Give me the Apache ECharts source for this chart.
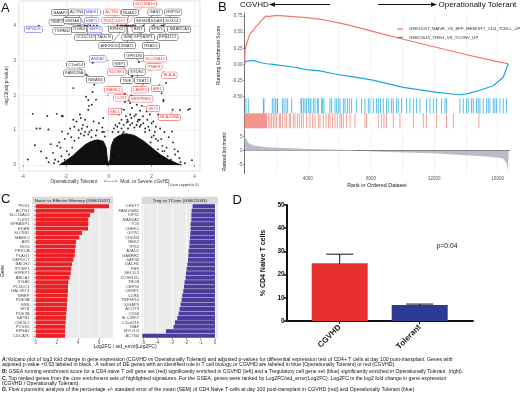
<!DOCTYPE html>
<html>
<head>
<meta charset="utf-8">
<script src="https://cdn.jsdelivr.net/npm/echarts@6/dist/echarts.min.js"></script>
<style>
  html, body { margin: 0; padding: 0; background: #fff; }
  #chart { width: 520px; height: 398px; }
</style>
</head>
<body>
<div id="chart"></div>
<script>
// ---- panel A: volcano ----
var volPoints = [
  [-3.26, 4], [-1.34, 4], [-1.10, 4], [-0.99, 4], [-0.87, 4], [-0.71, 4], [-0.55, 4], [0.40, 4], [0.55, 4], [0.62, 4],
  [0.71, 4], [0.78, 4], [0.85, 4], [0.92, 4], [1.02, 4], [1.12, 4], [1.23, 4], [1.62, 4], [2.08, 4], [2.47, 4], [2.55, 4],
  [-0.75, 2.94], [-1.03, 2.59], [1.41, 2.96], [2.55, 2.66], [1.33, 2.5], [1.61, 2.34], [2.35, 2.29], [2.67, 2.36],
  [0.95, 2.62], [1.1, 2.55], [1.9, 2.75], [0.75, 2.05], [1.05, 2.0], [0.95, 1.85], [1.55, 1.7], [0.6, 1.6], [2.98, 1.59],
  [-1.65, 2.21], [-0.67, 2.31], [-0.75, 2.10], [-0.59, 1.88], [-0.79, 1.73], [-0.95, 1.59], [-1.34, 1.45], [-0.25, 1.35],
  [-1.10, 1.3], [-1.65, 1.3], [-2.14, 1.4], [0.76, 1.81], [1.0, 1.78], [1.31, 1.73], [1.08, 1.64], [1.46, 1.56],
  [1.27, 1.45], [1.77, 1.54], [1.38, 1.30], [1.92, 1.45], [1.06, 1.35], [0.87, 1.30], [0.48, 1.45], [0.71, 1.59],
  [2.55, 1.83], [2.31, 1.45], [2.71, 1.30], [2.08, 1.25], [1.61, 1.20], [0.84, 1.22], [3.71, 1.59], [3.32, 1.58],
  [3.79, 1.61], [2.47, 2.06], [2.55, 1.87], [2.95, 0.96], [3.23, 0.39], [3.88, 0.14], [3.07, 0.45],
  [-3.54, 1.47], [-2.86, 1.41], [-2.42, 1.47], [-2.19, 1.41], [-1.06, 1.96], [-0.95, 1.87], [-0.92, 1.70], [-3.2, 1.05],
  [-3.36, 1.05], [-2.81, 1.02], [-2.18, 0.96], [-3.44, 0.57], [-3.15, 0.39], [-3.77, 0.16], [-2.4, 0.55], [-2.3, 0.65],
  [-2.25, 0.5], [-2.6, 0.35], [-2.9, 0.2], [-2.5, 0.15], [-2.7, 0.6], [-1.9, 0.9], [-1.8, 1.05], [-1.6, 1.1], [-1.4, 1.0],
  [-1.2, 1.15], [-1.0, 1.1], [-0.8, 1.0], [-0.6, 0.85], [-0.5, 0.7], [-0.4, 0.55], [-1.5, 1.25], [-1.3, 1.35], [-0.7, 1.25],
  [-0.3, 0.95], [-2.05, 0.75], [-1.95, 0.4], [-2.2, 0.25], [-1.3, 0.9], [-0.9, 0.95], [-0.45, 1.2],
  [0.35, 0.7], [0.45, 0.95], [0.6, 1.05], [0.7, 1.15], [0.9, 1.25], [1.1, 1.2], [1.3, 1.15], [1.5, 1.15], [1.7, 1.05],
  [1.9, 1.0], [2.1, 0.85], [2.3, 0.7], [2.5, 0.55], [2.6, 0.4], [2.75, 0.25], [2.9, 0.15], [3.0, 0.65], [2.8, 0.8],
  [2.6, 0.95], [2.4, 1.05], [2.2, 1.1], [2.0, 1.2], [1.8, 1.3], [1.6, 1.4], [1.2, 1.4], [1.0, 1.45], [0.8, 1.4], [0.6, 1.3],
  [0.5, 1.2], [3.1, 0.3], [3.3, 0.2], [2.35, 0.25], [-0.2, 0.2], [0.2, 0.25], [-0.15, 0.1], [0.15, 0.12],
  [-1.15, 0.85], [-0.95, 0.88], [-1.4, 0.78], [-1.7, 0.5], [-1.85, 0.3], [-0.65, 0.7], [-0.45, 0.45], [0.4, 0.5],
  [0.55, 0.75], [0.7, 0.95], [0.9, 1.05], [1.2, 1.08], [1.7, 0.95], [2.0, 0.8], [2.3, 0.45], [2.6, 0.2], [1.35, 1.25], [1.95, 0.65],
  [-2.35, 0.1], [-2.05, 0.15], [-1.6, 0.7], [-1.1, 0.95], [-0.8, 0.8], [-0.35, 0.35], [0.25, 0.45], [0.45, 0.8],
  [1.45, 1.1], [1.85, 1.1], [2.2, 0.75], [2.5, 0.4], [2.7, 0.5], [1.0, 1.15], [0.65, 0.9], [2.15, 0.95],
  [-0.18, 0.82], [-0.22, 0.95], [-0.3, 1.08], [0.18, 0.95], [0.25, 1.05], [0.32, 1.15], [-2.55, 0.05], [-2.8, 0.08],
  [3.35, 0.08], [3.55, 0.05], [-1.75, 0.8], [-1.25, 1.05], [-0.55, 1.0], [0.4, 1.1], [1.45, 1.3], [2.45, 0.75]
];
// outline of the dense core of non-significant genes
var volCloudX = [-2.3, -2.0, -1.7, -1.4, -1.1, -0.8, -0.5, -0.25, -0.12, -0.06, 0, 0.06, 0.12, 0.25, 0.5, 0.8, 1.2, 1.6, 2.0, 2.4, 2.8, 3.2, 3.4];
var volCloudY = [0, 0.12, 0.25, 0.42, 0.58, 0.68, 0.72, 0.68, 0.5, 0.15, 0.03, 0.15, 0.55, 0.75, 0.85, 0.9, 0.85, 0.7, 0.5, 0.3, 0.15, 0.04, 0];

var volLabelGene = ['HPGDS', 'BAIAP3', 'ACTN4', 'MAGI1', 'TIMP2', 'MXRA8', 'EMP1', 'TSPAN2', 'ITGB4', 'EMP3', 'CCDC167', 'TAGLN',
  'ACTN1', 'PDK1', 'IL6ST', 'SLC16A10', 'NUAK2', 'EPHX2', 'SESN3', 'BIN1', 'INSR', 'ANKRD55', 'ZMAT1', 'GPRASP1', 'RSAD2',
  'GAS7', 'HSPG2', 'EDAR', 'SOX13', 'SPEG', 'SMARCA1', 'EPB41L2', 'ANXA2', 'C1orf54', 'FAM129A', 'NIBAN1', 'GPR183',
  'SLC26A11', 'NRP1', 'PTAFR', 'SLC9B1', 'SYDE2', 'HLA-A', 'TNIK', 'TRAT1', 'MAML2', 'LAMP3', 'AIF1', 'CCR7', 'SERPINE2',
  'IFIT3', 'SELL', 'HLA-DMA'];
var volLabelX = [-3.51, -2.24, -1.49, -0.76, -2.42, -1.70, -0.79, -2.16, -1.38, -0.64, -1.07, -0.22,
  0.15, 0.01, 0.53, 1.69, 0.99, 0.37, 1.58, 1.38, 0.92, 0.06, 0.87, 1.61, 1.97,
  2.16, 3.01, 2.24, 2.94, 2.24, 3.29, 2.75, -0.51, -1.54, -1.60, -0.61, 1.19,
  2.16, 0.53, 2.11, 0.37, 1.31, 2.83, 0.84, 1.58, 0.22, 1.46, 2.27, 0.57, 1.51,
  2.08, 0.29, 2.83];
var volLabelY = [3.90, 4.38, 4.39, 4.39, 4.10, 4.15, 4.15, 3.85, 3.90, 3.90, 3.67, 3.67,
  4.39, 4.15, 4.15, 4.63, 4.38, 3.90, 4.15, 3.90, 3.67, 3.43, 3.43, 3.67, 3.43,
  4.39, 4.39, 4.15, 4.15, 3.90, 3.90, 3.67, 3.05, 2.88, 2.64, 2.45, 3.15,
  3.05, 2.92, 2.82, 2.67, 2.67, 2.58, 2.43, 2.43, 2.16, 2.16, 2.20, 1.93, 1.90,
  1.62, 1.54, 1.37];
var volPointX = [-3.26, -1.34, -1.10, -0.87, -1.34, -1.10, -0.99, -1.34, -0.99, -0.71, -0.87, -0.55,
  0.62, 0.55, 0.71, 0.78, 0.78, 0.71, 1.02, 0.92, 0.85, 0.78, 0.85, 1.12, 1.23,
  1.62, 2.55, 2.08, 2.47, 2.08, 2.55, 2.47, -0.75, -1.03, -1.03, -1.03, 1.41,
  1.41, 0.95, 1.9, 0.95, 1.33, 2.55, 1.1, 1.33, 0.75, 1.61, 2.35, 0.95, 1.05,
  1.55, 0.6, 2.98];
var volPointY = [4, 4, 4, 4, 4, 4, 4, 4, 4, 4, 4, 4,
  4, 4, 4, 4, 4, 4, 4, 4, 4, 4, 4, 4, 4,
  4, 4, 4, 4, 4, 4, 4, 2.94, 2.59, 2.59, 2.59, 2.96,
  2.96, 2.62, 2.75, 2.62, 2.5, 2.66, 2.55, 2.5, 2.05, 2.34, 2.29, 1.85, 2.0,
  1.7, 1.6, 1.59];
var volLabelKind = ['b', 'k', 'k', 'b', 'k', 'k', 'b', 'k', 'k', 'b', 'k', 'k',
  'r', 'r', 'r', 'r', 'k', 'k', 'k', 'k', 'k', 'k', 'k', 'k', 'k',
  'k', 'k', 'k', 'k', 'k', 'k', 'k', 'b', 'k', 'k', 'k', 'k',
  'r', 'k', 'r', 'r', 'k', 'r', 'k', 'k', 'r', 'r', 'r', 'r', 'r',
  'r', 'r', 'r'];
var volXTicks = [-4, -2, 0, 2, 4];
var volXMinor = [-3, -1, 1, 3];
var volYTicks = [0, 1, 2, 3, 4];
var volYMinor = [0.5, 1.5, 2.5, 3.5];

// ---- panel B: GSEA ----
var esRankRed = [0, 32, 137, 242, 348, 453, 600, 727, 874, 1022, 1190, 1359, 1611, 2033, 2876, 3930, 4982, 6035, 6667, 8035, 10035, 12035, 14035, 15930, 16670];
var esRed = [0, 0.217, 0.32, 0.40, 0.475, 0.50, 0.537, 0.589, 0.62, 0.67, 0.707, 0.749, 0.744, 0.76, 0.744, 0.723, 0.692, 0.64, 0.604, 0.516, 0.39, 0.27, 0.15, 0.047, 0.01];
var esRankBlue = [0, 32, 560, 980, 1400, 1820, 2240, 3086, 3930, 4771, 5613, 6667, 8035, 10035, 12035, 13600, 14035, 14880, 15723, 16355, 16670];
var esBlue = [0, 0.046, 0.062, 0.03, 0.01, 0.0, -0.015, -0.04, -0.08, -0.1, -0.145, -0.186, -0.24, -0.355, -0.43, -0.47, -0.455, -0.40, -0.33, -0.2, 0.01];
var blueHits = [95, 240, 1190, 1232, 1757, 1864, 1970, 2075, 2098, 2412, 2496, 2622, 2730, 2982, 3570, 3612, 3718, 3823, 3928,
  4035, 4139, 4200, 4350, 4455, 4600, 4665, 4876, 4940, 5024, 5403, 5508, 5718, 5825, 5929, 6035, 6245, 6350, 6497,
  6624, 6771, 7087, 7403, 7614, 7824, 7930, 8140, 8351, 8456, 8604, 8772, 8983, 9088, 9299, 9404, 9615, 9720, 9930,
  10246, 10458, 10668, 10879, 11089, 11511, 11721, 11932, 12143, 12459, 12669, 12775, 13617, 13827, 14038, 14143,
  14354, 14459, 14670, 14775, 14880, 15091, 15302, 15407, 15512, 15723, 15828, 15934, 16144, 16355, 16566];
var redBlock = [0, 1420];
var redHits = [1506, 1612, 1717, 1822, 1928, 2033, 2202, 2286, 2412, 2559, 2665, 2833, 2917, 3086, 3191, 3339, 3465, 3612,
  3718, 3928, 4139, 4308, 4455, 4666, 4771, 4982, 5150, 5298, 5403, 5571, 5719, 5866, 6035, 6140, 6245, 6456, 6666,
  6982, 7614, 7719, 8456, 8667, 8814, 8983, 9404, 9825, 10668, 11300, 11511, 12143, 12775, 13196, 14818];
var metricRank = [0, 32, 242, 558, 1400, 3930, 6667, 7300, 8562, 11932, 15512, 16355, 16566, 16650, 16700];
var metricVal = [6, 5.1, 2.7, 1.8, 1.2, 0.6, 0.25, 0, -0.36, -0.95, -2.2, -2.8, -4.6, -7.6, -8];
var rankTicks = [4000, 8000, 12000, 16000];
var rankGrid = [2000, 4000, 6000, 8000, 10000, 12000, 14000, 16000];
var esTicks = [-0.5, -0.25, 0, 0.25, 0.5, 0.75];
var metricTicks = [-5, 0, 5];
var setNames = ['GSE11057_NAIVE_VS_EFF_MEMORY_CD4_TCELL_UP', 'GSE22045_TREG_VS_TCONV_UP'];

// ---- panel C: core enrichment genes ----
var naiveGenes = ['PDK1', 'ACTN1', 'SLC16A10', 'IL6ST', 'GPRASP1', 'EDAR', 'SLC9B1', 'MAML2', 'AK5', 'NOG', 'PRKCA', 'PLAG1',
  'DEPDC7', 'BACH2', 'IPCEF1', 'HIVEP1', 'ABCA2', 'ITGA6', 'PLXDC1', 'GAL3ST4', 'NREP', 'PDE9A', 'SNN', 'MYB', 'PDE3B',
  'SATB1', 'CHI3L2', 'PCSK5', 'EFNA1', 'CDCA7L'];
var naiveScore = [6.95, 5.55, 5.15, 4.99, 4.99, 4.96, 4.39, 4.13, 3.82, 3.79, 3.73, 3.70, 3.57, 3.44, 3.38, 3.32, 3.22, 3.10,
  3.06, 3.06, 3.03, 3.00, 2.97, 2.94, 2.90, 2.87, 2.84, 2.81, 2.78, 2.78];
var tregGenes = ['CHST7', 'FAM160B1', 'KIF11', 'MAN1A2', 'TOX', 'CHEK1', 'GYPC', 'CDKN3', 'NEK2', 'TPX2', 'ATAD2', 'GABRR2',
  'SAP30', 'DACH1', 'PBK', 'SEL1L3', 'ZC3H12D', 'TBCB', 'CEP55', 'CENPL', 'CCR6', 'TNFSF10', 'IQGAP3', 'ACOT9', 'CD58',
  'SLC35F2', 'C1orf216', 'MAF', 'MYO1G', 'ACTN4'];
var tregScore = [-1.56, -1.63, -1.65, -1.65, -1.70, -1.70, -1.72, -1.74, -1.77, -1.79, -1.84, -1.86, -1.88, -1.93, -1.98,
  -2.02, -2.05, -2.12, -2.16, -2.21, -2.28, -2.33, -2.40, -2.47, -2.54, -2.63, -2.79, -2.89, -3.42, -5.07];
var naiveTicks = [0, 2, 4, 6];
var naiveMinor = [1, 3, 5, 7];
var tregTicks = [-5, -4, -3, -2, -1, 0];
var tregMinor = [-4.5, -3.5, -2.5, -1.5, -0.5];

// ---- panel D: flow cytometry ----
var flowGroups = ['CGVHD', 'Tolerant'];
var flowMean = [24.9, 6.9];
var flowSem = [3.9, 0.4];

var captionHeads = ['A:', '', 'B:', 'C.', '', 'D.'];
var captionBodies = [
  'Volcano plot of log2 fold change in gene expression (CGVHD vs Operationally Tolerant) and adjusted p-values for differential expression test of CD4+ T cells at day 100 post-transplant. Genes with',
  'adjusted p-value <0.03 labeled in black.  A subset of DE genes with an identified role in T cell biology or CGVHD are labeled in blue (Operationally Tolerant) or red (CGVHD).',
  ' GSEA running enrichment score for a CD4 naive T cell gene set (red) significantly enriched in CGVHD (left) and a Tregulatory cell gene set (blue) significantly enriched in Operationally Tolerant  (right).',
  ' Top ranked genes from the core enrichment sets of highlighted signatures. For the GSEA, genes were ranked by Log2FC/std_error(Log2FC). Log2FC is the log2 fold change in gene expression',
  '(CGVHD / Operationally Tolerant).',
  ' Flow cytometric analysis of the percentage +/- standard error of the mean (SEM) of CD4 Naive T cells at day 100 post-transplant in CGVHD (red) and Operationally Tolerant (blue)'
];

var FONT = 'Liberation Sans';
var chart = echarts.init(document.getElementById('chart'));

var kindColor = { k: '#333333', b: '#6253cf', r: '#ee3a3a' };

function zip(a, b) {
  return a.map(function (v, i) { return [v, b[i]]; });
}

function hiddenAxis(extra) {
  var base = {
    axisLine: { show: false },
    axisTick: { show: false },
    axisLabel: { show: false },
    splitLine: { show: false }
  };
  return Object.assign(base, extra);
}

function barcodeItem(params, api) {
  var start = api.value(0), end = api.value(1), row = api.value(2);
  var p0 = api.coord([start, row + 1]);
  var p1 = api.coord([end, row]);
  var w = Math.max(p1[0] - p0[0], 0.9);
  return {
    type: 'rect',
    shape: { x: start === end ? p0[0] - 0.45 : p0[0], y: p0[1], width: w, height: p1[1] - p0[1] },
    style: { fill: api.visual('color'), opacity: 0.85 }
  };
}

function errorBarItem(params, api) {
  var mean = api.value(1), err = api.value(2);
  var top = api.coord([api.value(0), mean + err]);
  var bot = api.coord([api.value(0), mean]);
  var half = 13.5;
  return {
    type: 'group',
    children: [
      { type: 'line', shape: { x1: top[0], y1: top[1], x2: bot[0], y2: bot[1] + 1 }, style: { stroke: '#111', lineWidth: 1 } },
      { type: 'line', shape: { x1: top[0] - half, y1: top[1], x2: top[0] + half, y2: top[1] }, style: { stroke: '#111', lineWidth: 1 } }
    ]
  };
}

function plainNumber(v) { return String(v); }

var labelData = volLabelGene.map(function (g, i) {
  var c = kindColor[volLabelKind[i]];
  return {
    name: g,
    value: [volLabelX[i], volLabelY[i]],
    label: { color: c, borderColor: c }
  };
});
var segData = volLabelGene.map(function (g, i) {
  return {
    coords: [[volLabelX[i], volLabelY[i]], [volPointX[i], volPointY[i]]],
    lineStyle: { color: kindColor[volLabelKind[i]] }
  };
});

var gridLineA = { color: '#e8e8e8', width: 0.6 };
var tickText = { fontSize: 4.5, color: '#555', fontFamily: FONT };

var graphics = [
  // panel letters
  { type: 'text', x: 1, y: 8, style: { text: 'A', fontSize: 13, fontFamily: FONT, fill: '#111', verticalAlign: 'middle' } },
  { type: 'text', x: 218, y: 7.5, style: { text: 'B', fontSize: 13, fontFamily: FONT, fill: '#111', verticalAlign: 'middle' } },
  { type: 'text', x: 1, y: 199.5, style: { text: 'C', fontSize: 13, fontFamily: FONT, fill: '#111', verticalAlign: 'middle' } },
  { type: 'text', x: 232.5, y: 200, style: { text: 'D', fontSize: 13, fontFamily: FONT, fill: '#111', verticalAlign: 'middle' } },
  // volcano axis caption
  { type: 'text', x: 110, y: 182, style: { text: 'Operationally Tolerant     <----->  Mod. to Severe cGvHD', fontSize: 4.8, fontFamily: FONT, fill: '#333', align: 'center', verticalAlign: 'middle' } },
  { type: 'text', x: 168, y: 185.5, style: { text: '(Y-axis capped at 4.)', fontSize: 3.4, fontFamily: FONT, fill: '#333', verticalAlign: 'middle' } },
  // GSEA direction arrows
  { type: 'text', x: 240, y: 4.5, style: { text: 'CGVHD', fontSize: 8, fontFamily: FONT, fill: '#111', verticalAlign: 'middle' } },
  { type: 'line', shape: { x1: 272, y1: 4.5, x2: 330, y2: 4.5 }, style: { stroke: '#111', lineWidth: 1 } },
  { type: 'polygon', shape: { points: [[269, 4.5], [275, 2.2], [275, 6.8]] }, style: { fill: '#111' } },
  { type: 'line', shape: { x1: 378, y1: 4.5, x2: 434, y2: 4.5 }, style: { stroke: '#111', lineWidth: 1 } },
  { type: 'polygon', shape: { points: [[437, 4.5], [431, 2.2], [431, 6.8]] }, style: { fill: '#111' } },
  { type: 'text', x: 438.5, y: 4.5, style: { text: 'Operationally Tolerant', fontSize: 8, fontFamily: FONT, fill: '#111', verticalAlign: 'middle' } },
  // facet strips
  { type: 'rect', shape: { x: 32, y: 196.7, width: 81, height: 7.3 }, style: { fill: '#d9d9d9' } },
  { type: 'text', x: 72.5, y: 200.4, style: { text: 'Naive vs Effector Memory (GSE11057)', fontSize: 4.4, fontFamily: FONT, fill: '#1a1a1a', align: 'center', verticalAlign: 'middle' } },
  { type: 'rect', shape: { x: 141.7, y: 196.7, width: 76.3, height: 7.3 }, style: { fill: '#d9d9d9' } },
  { type: 'text', x: 179.8, y: 200.4, style: { text: 'Treg vs TConv (GSE22045)', fontSize: 4.4, fontFamily: FONT, fill: '#1a1a1a', align: 'center', verticalAlign: 'middle' } },
  { type: 'text', x: 125, y: 347, style: { text: 'Log2FC / std_error(Log2FC)', fontSize: 5, fontFamily: FONT, fill: '#222', align: 'center', verticalAlign: 'middle' } },
  // panel D annotation
  { type: 'text', x: 436.5, y: 245.7, style: { text: 'p=0.04', fontSize: 6.8, fontFamily: FONT, fill: '#222', verticalAlign: 'middle' } }
];

var captionY = [359.3, 364.6, 371.7, 378.2, 383.4, 389.4];
captionBodies.forEach(function (body, i) {
  graphics.push({
    type: 'text', x: 2, y: captionY[i],
    style: {
      text: (captionHeads[i] ? '{h|' + captionHeads[i] + '}' : '') + body,
      fontSize: 5.15, fontFamily: 'Liberation Sans', fill: '#111', verticalAlign: 'middle',
      rich: { h: { fontWeight: 'bold', fontSize: 5.15, fontFamily: 'Liberation Sans', fill: '#111' } }
    }
  });
});

var option = {
  animation: false,
  backgroundColor: '#fff',
  textStyle: { fontFamily: FONT },
  grid: [
    { left: 19, top: 1, width: 181, height: 170, show: true, backgroundColor: '#fff', borderColor: '#cfcfcf', borderWidth: 0.6, outerBoundsMode: 'none' },
    { left: 244.5, top: 13, width: 265, height: 85, outerBoundsMode: 'none' },
    { left: 244.5, top: 98.3, width: 265, height: 30, outerBoundsMode: 'none' },
    { left: 244.5, top: 130, width: 265, height: 43.5, outerBoundsMode: 'none' },
    { left: 32, top: 204, width: 81, height: 134, show: true, backgroundColor: '#ebebeb', borderWidth: 0, outerBoundsMode: 'none' },
    { left: 141.7, top: 204, width: 76.3, height: 134, show: true, backgroundColor: '#ebebeb', borderWidth: 0, outerBoundsMode: 'none' },
    { left: 299.7, top: 205, width: 160, height: 116, outerBoundsMode: 'none' },
    { left: 286.7, top: 205, width: 186.3, height: 116, outerBoundsMode: 'none' }
  ],
  legend: {
    data: setNames,
    left: 392, top: 22, orient: 'vertical',
    icon: 'rect', itemWidth: 6, itemHeight: 1.2, itemGap: 4.5,
    textStyle: { fontSize: 4.3, color: '#333', fontFamily: FONT, padding: [0, 0, 0, 1] },
    selectedMode: false
  },
  xAxis: [
    // 0 volcano major
    { gridIndex: 0, type: 'value', min: -4.18, max: 4.256,
      axisLine: { show: false },
      axisTick: { show: true, length: 2, lineStyle: { color: '#555', width: 0.5 }, customValues: volXTicks },
      axisLabel: Object.assign({ customValues: volXTicks, margin: 3 }, tickText),
      splitLine: { show: true, lineStyle: gridLineA } },
    // 1 volcano minor
    hiddenAxis({ gridIndex: 0, type: 'value', min: -4.18, max: 4.256, position: 'top',
      axisTick: { show: false, customValues: volXMinor },
      splitLine: { show: true, lineStyle: { color: '#f3f3f3', width: 0.4 } } }),
    // 2 ES
    hiddenAxis({ gridIndex: 1, type: 'value', min: 0, max: 16750,
      axisTick: { show: false, customValues: rankGrid },
      splitLine: { show: true, lineStyle: { color: '#ebebeb', width: 0.6 } } }),
    // 3 barcode
    hiddenAxis({ gridIndex: 2, type: 'value', min: 0, max: 16750,
      axisTick: { show: false, customValues: rankGrid },
      splitLine: { show: true, lineStyle: { color: '#ebebeb', width: 0.6 } } }),
    // 4 metric
    { gridIndex: 3, type: 'value', min: 0, max: 16750,
      name: 'Rank in Ordered Dataset', nameLocation: 'middle', nameGap: 10,
      nameTextStyle: { fontSize: 5.4, color: '#222', fontFamily: FONT },
      axisLine: { show: true, lineStyle: { color: '#333', width: 0.7 } },
      axisTick: { show: false, customValues: rankGrid },
      axisLabel: Object.assign({ customValues: rankTicks, margin: 2.5, formatter: plainNumber }, tickText),
      splitLine: { show: true, lineStyle: { color: '#ebebeb', width: 0.6 } } },
    // 5 C left major
    { gridIndex: 4, type: 'value', min: -0.35, max: 7.33,
      axisLine: { show: false },
      axisTick: { show: true, length: 1.5, lineStyle: { color: '#333', width: 0.5 }, customValues: naiveTicks },
      axisLabel: Object.assign({ customValues: naiveTicks, margin: 2.5 }, tickText),
      splitLine: { show: true, lineStyle: { color: '#fff', width: 0.7 } } },
    // 6 C left minor
    hiddenAxis({ gridIndex: 4, type: 'value', min: -0.35, max: 7.33, position: 'top',
      axisTick: { show: false, customValues: naiveMinor },
      splitLine: { show: true, lineStyle: { color: '#fff', width: 0.35 } } }),
    // 7 C right major
    { gridIndex: 5, type: 'value', min: -5.11, max: 0.21,
      axisLine: { show: false },
      axisTick: { show: true, length: 1.5, lineStyle: { color: '#333', width: 0.5 }, customValues: tregTicks },
      axisLabel: Object.assign({ customValues: tregTicks, margin: 2.5 }, tickText),
      splitLine: { show: true, lineStyle: { color: '#fff', width: 0.7 } } },
    // 8 C right minor
    hiddenAxis({ gridIndex: 5, type: 'value', min: -5.11, max: 0.21, position: 'top',
      axisTick: { show: false, customValues: tregMinor },
      splitLine: { show: true, lineStyle: { color: '#fff', width: 0.35 } } }),
    // 9 D categories
    { gridIndex: 6, type: 'category', data: flowGroups,
      axisLine: { show: false },
      axisTick: { show: true, alignWithLabel: true, length: 3, lineStyle: { color: '#111', width: 1 } },
      axisLabel: { rotate: 45, fontSize: 8, fontWeight: 'bold', color: '#111', fontFamily: FONT, margin: 5, interval: 0 },
      splitLine: { show: false } },
    // 10 D axis line
    hiddenAxis({ gridIndex: 7, type: 'value', min: 0, max: 1,
      axisLine: { show: true, lineStyle: { color: '#111', width: 2 } } })
  ],
  yAxis: [
    // 0 volcano major
    { gridIndex: 0, type: 'value', min: -0.172, max: 4.713,
      name: '-log10(adj p-value)', nameLocation: 'middle', nameGap: 8,
      nameTextStyle: { fontSize: 4.8, color: '#333', fontFamily: FONT },
      axisLine: { show: false },
      axisTick: { show: true, length: 2, lineStyle: { color: '#555', width: 0.5 }, customValues: volYTicks },
      axisLabel: Object.assign({ customValues: volYTicks, margin: 3 }, tickText),
      splitLine: { show: true, lineStyle: gridLineA } },
    // 1 volcano minor
    hiddenAxis({ gridIndex: 0, type: 'value', min: -0.172, max: 4.713, position: 'right',
      axisTick: { show: false, customValues: volYMinor },
      splitLine: { show: true, lineStyle: { color: '#f3f3f3', width: 0.4 } } }),
    // 2 ES
    { gridIndex: 1, type: 'value', min: -0.52, max: 0.796,
      name: 'Running Enrichment Score', nameLocation: 'middle', nameGap: 12,
      nameTextStyle: { fontSize: 5, color: '#222', fontFamily: FONT },
      axisLine: { show: true, lineStyle: { color: '#333', width: 0.7 } },
      axisTick: { show: true, length: 1.5, lineStyle: { color: '#333', width: 0.5 }, customValues: esTicks },
      axisLabel: Object.assign({ customValues: esTicks, margin: 2, formatter: function (v) { return v.toFixed(2); } }, tickText),
      splitLine: { show: false } },
    // 3 barcode
    hiddenAxis({ gridIndex: 2, type: 'value', min: 0, max: 2,
      axisLine: { show: true, lineStyle: { color: '#333', width: 0.7 } } }),
    // 4 metric
    { gridIndex: 3, type: 'value', min: -8.2, max: 7.4,
      name: 'Ranked list metric', nameLocation: 'middle', nameGap: 12,
      nameTextStyle: { fontSize: 5, color: '#222', fontFamily: FONT },
      axisLine: { show: true, lineStyle: { color: '#333', width: 0.7 } },
      axisTick: { show: true, length: 1.5, lineStyle: { color: '#333', width: 0.5 }, customValues: metricTicks },
      axisLabel: Object.assign({ customValues: metricTicks, margin: 2 }, tickText),
      splitLine: { show: false } },
    // 5 C left genes
    { gridIndex: 4, type: 'category', data: naiveGenes, inverse: true,
      name: 'Gene', nameLocation: 'middle', nameGap: 24,
      nameTextStyle: { fontSize: 5, color: '#222', fontFamily: FONT },
      axisLine: { show: false },
      axisTick: { show: true, alignWithLabel: true, length: 1.5, lineStyle: { color: '#333', width: 0.5 } },
      axisLabel: { interval: 0, fontSize: 4.2, color: '#4d4d4d', fontFamily: FONT, margin: 2.5 },
      splitLine: { show: false } },
    // 6 C right genes
    { gridIndex: 5, type: 'category', data: tregGenes, inverse: true,
      axisLine: { show: false },
      axisTick: { show: true, alignWithLabel: true, length: 1.5, lineStyle: { color: '#333', width: 0.5 } },
      axisLabel: { interval: 0, fontSize: 4.2, color: '#4d4d4d', fontFamily: FONT, margin: 2.5 },
      splitLine: { show: false } },
    // 7 D bars value (hidden)
    hiddenAxis({ gridIndex: 6, type: 'value', min: 0, max: 50 }),
    // 8 D visible y axis
    { gridIndex: 7, type: 'value', min: 0, max: 50, interval: 10,
      name: '% CD4 Naive T cells', nameLocation: 'middle', nameGap: 20,
      nameTextStyle: { fontSize: 7, fontWeight: 'bold', color: '#111', fontFamily: FONT },
      axisLine: { show: true, lineStyle: { color: '#111', width: 2 } },
      axisTick: { show: true, length: 3, lineStyle: { color: '#111', width: 1.5 } },
      axisLabel: { fontSize: 6.5, fontWeight: 'bold', color: '#111', fontFamily: FONT, margin: 2 },
      splitLine: { show: false } }
  ],
  graphic: graphics,
  series: [
    // A: dense core
    { type: 'line', xAxisIndex: 0, yAxisIndex: 0, data: zip(volCloudX, volCloudY), showSymbol: false, smooth: false,
      lineStyle: { color: '#111', width: 1 }, areaStyle: { color: '#111', opacity: 1 }, silent: true, z: 2 },
    // A: individual genes
    { type: 'scatter', xAxisIndex: 0, yAxisIndex: 0, data: volPoints, symbolSize: 1.9,
      itemStyle: { color: '#000', opacity: 0.85 }, silent: true, z: 3 },
    // A: label connectors
    { type: 'lines', coordinateSystem: 'cartesian2d', xAxisIndex: 0, yAxisIndex: 0, data: segData,
      lineStyle: { width: 0.5, opacity: 1 }, silent: true, z: 4 },
    // A: gene labels
    { type: 'scatter', xAxisIndex: 0, yAxisIndex: 0, data: labelData, symbolSize: 0,
      itemStyle: { color: '#fff', opacity: 1 }, silent: true, z: 5,
      label: { show: true, position: 'inside', formatter: '{b}', fontSize: 4.1, fontFamily: FONT,
        backgroundColor: '#fff', borderWidth: 0.5, borderRadius: 1.2, padding: [0.9, 1.4] } },
    // B: running enrichment
    { type: 'line', name: setNames[0], xAxisIndex: 2, yAxisIndex: 2, data: zip(esRankRed, esRed), showSymbol: false,
      lineStyle: { color: '#f4766c', width: 1.2 }, itemStyle: { color: '#f4766c' }, z: 3 },
    { type: 'line', name: setNames[1], xAxisIndex: 2, yAxisIndex: 2, data: zip(esRankBlue, esBlue), showSymbol: false,
      lineStyle: { color: '#1aa6dd', width: 1.2 }, itemStyle: { color: '#1aa6dd' }, z: 3 },
    // B: hit barcodes
    { type: 'custom', xAxisIndex: 3, yAxisIndex: 3, renderItem: barcodeItem, silent: true,
      itemStyle: { color: '#2aacdf' },
      data: blueHits.map(function (r) { return [r, r, 1]; }) },
    { type: 'custom', xAxisIndex: 3, yAxisIndex: 3, renderItem: barcodeItem, silent: true,
      itemStyle: { color: '#f08478' },
      data: [[redBlock[0], redBlock[1], 0]].concat(redHits.map(function (r) { return [r, r, 0]; })) },
    // B: ranked list metric
    { type: 'line', xAxisIndex: 4, yAxisIndex: 4, data: zip(metricRank, metricVal), showSymbol: false,
      lineStyle: { width: 0 }, areaStyle: { color: '#b8bcc8', opacity: 1 }, silent: true },
    // C
    { type: 'bar', xAxisIndex: 5, yAxisIndex: 5, data: naiveScore, barCategoryGap: '10%',
      itemStyle: { color: '#ec2024' }, silent: true },
    { type: 'bar', xAxisIndex: 7, yAxisIndex: 6, data: tregScore, barCategoryGap: '10%',
      itemStyle: { color: '#4a3c9c' }, silent: true },
    // D
    { type: 'bar', xAxisIndex: 9, yAxisIndex: 7, barWidth: 56, silent: true,
      data: [
        { value: flowMean[0], itemStyle: { color: '#e8302f' } },
        { value: flowMean[1], itemStyle: { color: '#2e3b96' } }
      ] },
    { type: 'custom', xAxisIndex: 9, yAxisIndex: 7, renderItem: errorBarItem, silent: true, z: 4,
      data: flowGroups.map(function (g, i) { return [i, flowMean[i], flowSem[i]]; }) }
  ]
};

chart.setOption(option);
</script>
</body>
</html>
